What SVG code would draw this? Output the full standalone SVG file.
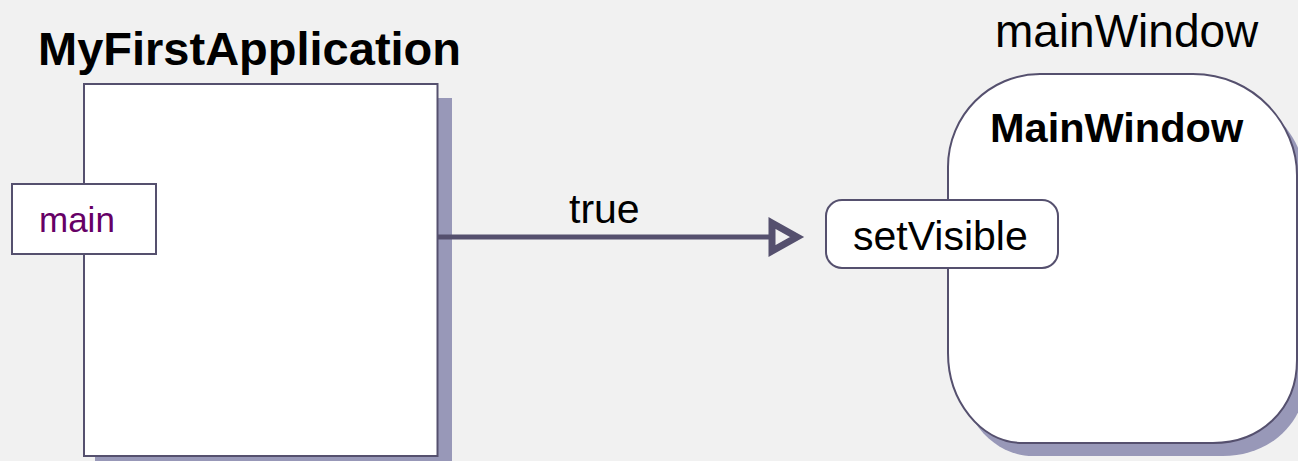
<svg xmlns="http://www.w3.org/2000/svg" width="1298" height="461" viewBox="0 0 1298 461">
<style>
.node{fill:#ffffff;stroke:#55506e;stroke-width:2}
.shadow{fill:#9898b8;stroke:none}
.t{font-family:"Liberation Sans",Arial,sans-serif;fill:#000}
.b{font-weight:bold}
.conn{stroke:#55506e;stroke-width:5;fill:none}
</style>
<rect x="0" y="0" width="1298" height="461" fill="#f1f1f1"/>
<g id="MyFirstApplication">
<text class="t b" x="38" y="65" font-size="47">MyFirstApplication</text>
<rect class="shadow" x="95" y="98" width="357" height="380"/>
<rect class="node" x="84" y="84" width="353.5" height="372"/>
</g>
<g id="main">
<rect class="node" x="12" y="184" width="144" height="70" stroke-width="1.6"/>
<text class="t" x="39" y="232" font-size="35" style="fill:#660066">main</text>
</g>
<g id="mainWindow">
<text class="t" x="995" y="47" font-size="46">mainWindow</text>
<path class="shadow" transform="translate(10,13)" d="M1040 74 L1193 74 C1255 74 1297 125 1297 175 L1297 360 C1297 410 1260 443 1213 443 L1023 443 C980 443 948 400 948 353 L948 167 C948 115 990 74 1040 74 Z"/>
<path class="node" d="M1040 74 L1193 74 C1255 74 1297 125 1297 175 L1297 360 C1297 410 1260 443 1213 443 L1023 443 C980 443 948 400 948 353 L948 167 C948 115 990 74 1040 74 Z"/>
<text class="t b" x="990" y="142" font-size="41.5">MainWindow</text>
</g>
<g id="setVisible">
<rect class="node" x="826" y="200" width="232" height="68" rx="16" ry="16"/>
<text class="t" x="853" y="250" font-size="41">setVisible</text>
</g>
<g id="connectors">
<line class="conn" x1="438" y1="237" x2="772" y2="237"/>
<polygon class="conn" points="772,223 797,237 772,251" style="fill:#f1f1f1;stroke-width:7" stroke-linejoin="miter"/>
<text class="t" x="569" y="223" font-size="41">true</text>
</g>
</svg>
